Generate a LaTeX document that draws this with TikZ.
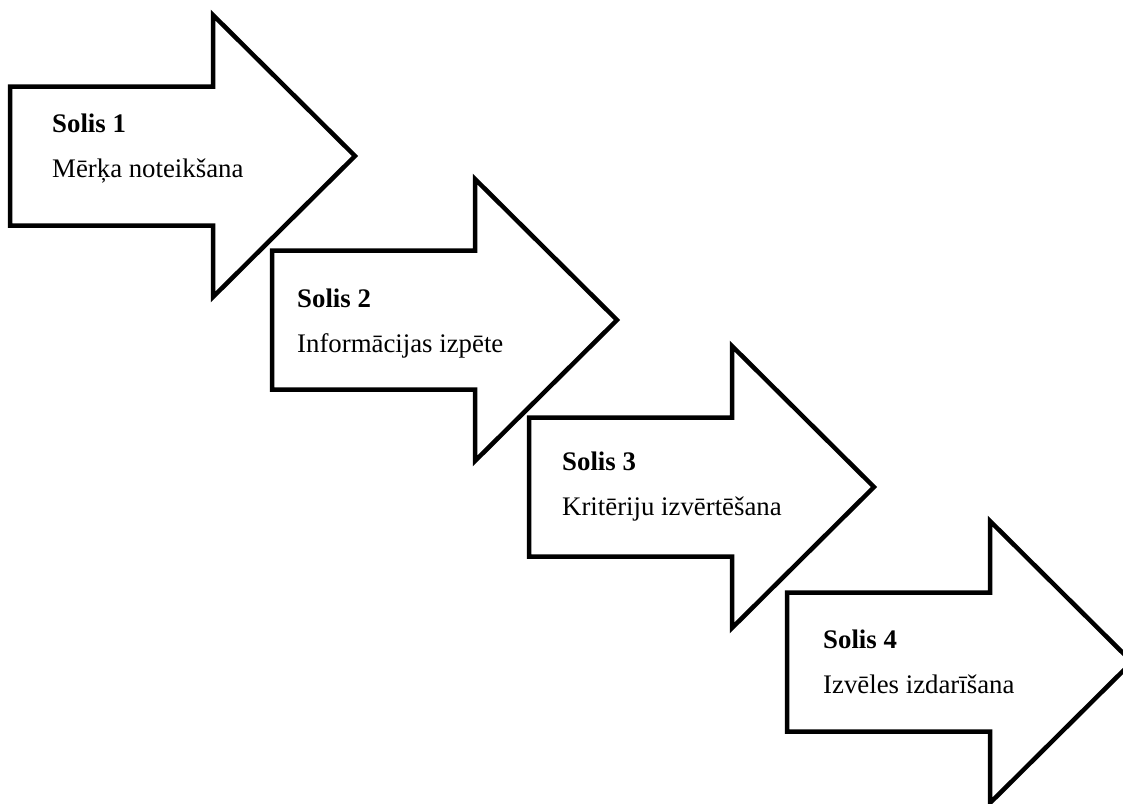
\documentclass[tikz,border=0pt]{standalone}
\usepackage{fontspec}
\setmainfont{Liberation Serif}
\usetikzlibrary{positioning}

% one step arrow: name, left x, centre y, text x, first baseline, number, label
\newcommand{\solisarrow}[7]{%
    \draw[arrowline] (#2,#3-69.5) -- ++(203,0) -- ++(0,-71.5) -- (#2+345,#3)
        -- (#2+203,#3+141) -- ++(0,-71.5) -- (#2,#3+69.5) -- cycle;
    \node[steptitle] (#1t) at (#4,#5) {Solis #6};
    \node[steplabel, below=45pt of #1t.base west, anchor=base west] (#1l) {#7};
}

\begin{document}
\begin{tikzpicture}[x=1pt, y=-1pt,
    arrowline/.style={line width=4.5pt, fill=white, miter limit=10},
    steptitle/.style={anchor=base west, inner sep=0pt, font=\fontsize{26.8}{32}\selectfont\bfseries},
    steplabel/.style={inner sep=0pt, font=\fontsize{26.8}{32}\selectfont}]
    \useasboundingbox (0,0) rectangle (1123,803);

    % Four steps, going down to the right
    \solisarrow{s1}{10}{156}{52}{132}{1}{Mērķa noteikšana}
    \solisarrow{s2}{272}{320}{297}{307}{2}{Informācijas izpēte}
    \solisarrow{s3}{529}{487}{562}{470}{3}{Kritēriju izvērtēšana}
    \solisarrow{s4}{787}{662}{823}{648}{4}{Izvēles izdarīšana}

\end{tikzpicture}
\end{document}
